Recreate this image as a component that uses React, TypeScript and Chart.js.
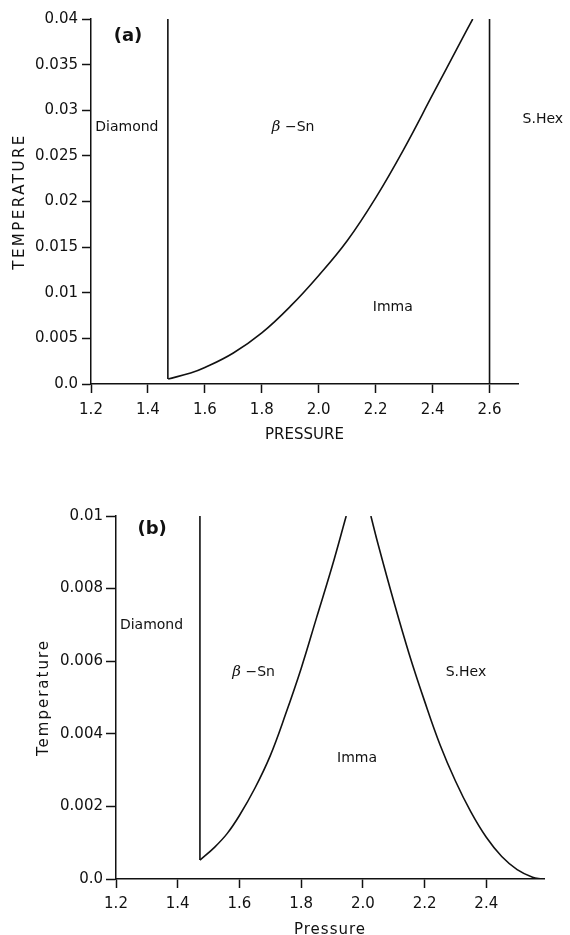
import React, { useEffect, useRef } from 'react';
import { Chart, registerables } from 'chart.js';
Chart.register(...registerables);

// ---------- Panel (a) data ----------
const A_X_TICKS = [1.2, 1.4, 1.6, 1.8, 2.0, 2.2, 2.4, 2.6];
const A_X_LABELS = ['1.2', '1.4', '1.6', '1.8', '2.0', '2.2', '2.4', '2.6'];
const A_Y_TICKS = [0, 0.005, 0.01, 0.015, 0.02, 0.025, 0.03, 0.035, 0.04];
const A_Y_LABELS = ['0.0', '0.005', '0.01', '0.015', '0.02', '0.025', '0.03', '0.035', '0.04'];
const A_X_RANGE = [1.2, 2.7];
const A_Y_RANGE = [0, 0.04];

// Diamond / beta-Sn boundary (vertical)
const A_DIA_X = [1.47, 1.47];
const A_DIA_Y = [0.04, 0.00055];
// beta-Sn / Imma boundary
const A_IMMA_X = [1.471, 1.55, 1.6, 1.7, 1.8, 1.9, 2.0, 2.1, 2.2, 2.3, 2.4, 2.5, 2.541];
const A_IMMA_Y = [0.00055, 0.0012, 0.0018, 0.0034, 0.0056, 0.0085, 0.0119, 0.0157, 0.0204, 0.0258, 0.0317, 0.0376, 0.04];
// Imma / S.Hex boundary (vertical)
const A_SHEX_X = [2.6, 2.6];
const A_SHEX_Y = [0, 0.04];

// ---------- Panel (b) data ----------
const B_X_TICKS = [1.2, 1.4, 1.6, 1.8, 2.0, 2.2, 2.4];
const B_X_LABELS = ['1.2', '1.4', '1.6', '1.8', '2.0', '2.2', '2.4'];
const B_Y_TICKS = [0, 0.002, 0.004, 0.006, 0.008, 0.01];
const B_Y_LABELS = ['0.0', '0.002', '0.004', '0.006', '0.008', '0.01'];
const B_X_RANGE = [1.2, 2.587];
const B_Y_RANGE = [0, 0.01];

const B_DIA_X = [1.472, 1.472];
const B_DIA_Y = [0.01, 0.00052];
const B_LEFT_X = [1.472, 1.52, 1.56, 1.6, 1.65, 1.7, 1.75, 1.8, 1.85, 1.9, 1.946];
const B_LEFT_Y = [0.00052, 0.00088, 0.00125, 0.00175, 0.0025, 0.0034, 0.00455, 0.0058, 0.0072, 0.0086, 0.01];
const B_RIGHT_X = [2.026, 2.05, 2.1, 2.15, 2.2, 2.25, 2.3, 2.35, 2.4, 2.45, 2.5, 2.55, 2.58];
const B_RIGHT_Y = [0.01, 0.0092, 0.00765, 0.0062, 0.0049, 0.0037, 0.0027, 0.00185, 0.00115, 0.00062, 0.00026, 0.00005, 0.0];

const INK = '#111';
const SANS = '"DejaVu Sans", sans-serif';

type Part = { t: string; font: string };
type Note = { parts: Part[]; x: number; y: number; align?: 'left' | 'center' };

const A_NOTES: Note[] = [
  { parts: [{ t: '(a)', font: `bold 18px ${SANS}` }], x: 1.33, y: 0.0381 },
  { parts: [{ t: 'Diamond', font: `14px ${SANS}` }], x: 1.326, y: 0.0281 },
  { parts: [{ t: 'β', font: 'italic 15px "DejaVu Serif", serif' }, { t: ' −Sn', font: `14px ${SANS}` }], x: 1.91, y: 0.0281 },
  { parts: [{ t: 'Imma', font: `14px ${SANS}` }], x: 2.26, y: 0.0084 },
  { parts: [{ t: 'S.Hex', font: `14px ${SANS}` }], x: 2.716, y: 0.029, align: 'left' },
];

const B_NOTES: Note[] = [
  { parts: [{ t: '(b)', font: `bold 18px ${SANS}` }], x: 1.317, y: 0.00963 },
  { parts: [{ t: 'Diamond', font: `14px ${SANS}` }], x: 1.315, y: 0.00699 },
  { parts: [{ t: 'β', font: 'italic 15px "DejaVu Serif", serif' }, { t: ' −Sn', font: `14px ${SANS}` }], x: 1.646, y: 0.00569 },
  { parts: [{ t: 'S.Hex', font: `14px ${SANS}` }], x: 2.334, y: 0.00569 },
  { parts: [{ t: 'Imma', font: `14px ${SANS}` }], x: 1.981, y: 0.00333 },
];

const pts = (xs: number[], ys: number[]) => xs.map((x, i) => ({ x, y: ys[i] }));

const lineDs = (xs: number[], ys: number[], smooth: boolean) => ({
  data: pts(xs, ys),
  borderColor: INK,
  borderWidth: 1.6,
  pointRadius: 0,
  fill: false,
  cubicInterpolationMode: 'default' as const,
  tension: smooth ? 0.4 : 0,
});

type Cfg = {
  datasets: any[];
  xRange: number[];
  yRange: number[];
  xTicks: number[];
  xLabels: string[];
  yTicks: number[];
  yLabels: string[];
  padTop: number;
  padRight: number;
  yWidth: number;
  xHeight: number;
  xLabelPad: number;
  yTickLen: number;
  yLabelPad: number;
  notes: Note[];
  xTitle: string;
  yTitle: string;
  xTitleDy: number;
  yTitleDx: number;
  xTitleSpacing: string;
  yTitleSpacing: string;
};

function makeConfig(c: Cfg): any {
  const textPlugin = {
    id: 'notes',
    afterDraw(chart: any) {
      const { ctx, chartArea, scales } = chart;
      ctx.save();
      ctx.fillStyle = INK;
      ctx.textBaseline = 'middle';
      for (const n of c.notes) {
        let total = 0;
        const widths = n.parts.map((p) => {
          ctx.font = p.font;
          const w = ctx.measureText(p.t).width;
          total += w;
          return w;
        });
        let px = scales.x.getPixelForValue(n.x);
        const py = scales.y.getPixelForValue(n.y);
        if (n.align !== 'left') px -= total / 2;
        ctx.textAlign = 'left';
        n.parts.forEach((p, i) => {
          ctx.font = p.font;
          ctx.fillText(p.t, px, py);
          px += widths[i];
        });
      }
      ctx.font = `15px ${SANS}`;
      ctx.textAlign = 'center';
      (ctx as any).letterSpacing = c.xTitleSpacing;
      ctx.fillText(c.xTitle, (chartArea.left + chartArea.right) / 2, chartArea.bottom + c.xTitleDy);
      (ctx as any).letterSpacing = c.yTitleSpacing;
      ctx.translate(chartArea.left - c.yTitleDx, (chartArea.top + chartArea.bottom) / 2);
      ctx.rotate(-Math.PI / 2);
      ctx.fillText(c.yTitle, 0, 0);
      ctx.restore();
    },
  };

  return {
    type: 'line',
    data: { datasets: c.datasets },
    options: {
      animation: false,
      responsive: false,
      devicePixelRatio: 1,
      layout: { padding: { top: c.padTop, right: c.padRight, left: 0, bottom: 0 } },
      plugins: { legend: { display: false }, tooltip: { enabled: false } },
      scales: {
        x: {
          type: 'linear',
          min: c.xRange[0],
          max: c.xRange[1],
          afterBuildTicks: (s: any) => {
            s.ticks = c.xTicks.map((v) => ({ value: v }));
          },
          afterFit: (s: any) => {
            s.height = c.xHeight;
          },
          border: { display: true, color: INK, width: 1.5 },
          grid: {
            display: true,
            drawOnChartArea: false,
            drawTicks: true,
            tickLength: 9,
            tickColor: INK,
            tickWidth: 1.5,
          },
          ticks: {
            color: INK,
            font: { family: SANS, size: 15 },
            padding: c.xLabelPad,
            maxRotation: 0,
            autoSkip: false,
            callback: (_v: any, i: number) => c.xLabels[i],
          },
        },
        y: {
          type: 'linear',
          min: c.yRange[0],
          max: c.yRange[1],
          afterBuildTicks: (s: any) => {
            s.ticks = c.yTicks.map((v) => ({ value: v }));
          },
          afterFit: (s: any) => {
            s.width = c.yWidth;
          },
          border: { display: true, color: INK, width: 1.5 },
          grid: {
            display: true,
            drawOnChartArea: false,
            drawTicks: true,
            tickLength: c.yTickLen,
            tickColor: INK,
            tickWidth: 1.5,
          },
          ticks: {
            color: INK,
            font: { family: SANS, size: 15 },
            padding: c.yLabelPad,
            autoSkip: false,
            callback: (_v: any, i: number) => c.yLabels[i],
          },
        },
      },
    },
    plugins: [textPlugin],
  };
}

function Panel({ cfg, top, height }: { cfg: Cfg; top: number; height: number }) {
  const ref = useRef<HTMLCanvasElement | null>(null);
  useEffect(() => {
    if (!ref.current) return;
    const chart = new Chart(ref.current, makeConfig(cfg));
    return () => chart.destroy();
  }, []);
  return (
    <canvas
      ref={ref}
      width={570}
      height={height}
      style={{ position: 'absolute', left: 0, top, width: 570, height }}
    />
  );
}

const A_CFG: Cfg = {
  datasets: [
    lineDs(A_DIA_X, A_DIA_Y, false),
    lineDs(A_IMMA_X, A_IMMA_Y, true),
    lineDs(A_SHEX_X, A_SHEX_Y, false),
  ],
  xRange: A_X_RANGE,
  yRange: A_Y_RANGE,
  xTicks: A_X_TICKS,
  xLabels: A_X_LABELS,
  yTicks: A_Y_TICKS,
  yLabels: A_Y_LABELS,
  padTop: 19,
  padRight: 52,
  yWidth: 91,
  xHeight: 76,
  xLabelPad: 8,
  yTickLen: 9,
  yLabelPad: 4,
  notes: A_NOTES,
  xTitle: 'PRESSURE',
  yTitle: 'TEMPERATURE',
  xTitleDy: 51,
  yTitleDx: 71,
  xTitleSpacing: '0px',
  yTitleSpacing: '2.5px',
};

const B_CFG: Cfg = {
  datasets: [
    lineDs(B_DIA_X, B_DIA_Y, false),
    lineDs(B_LEFT_X, B_LEFT_Y, true),
    lineDs(B_RIGHT_X, B_RIGHT_Y, true),
  ],
  xRange: B_X_RANGE,
  yRange: B_Y_RANGE,
  xTicks: B_X_TICKS,
  xLabels: B_X_LABELS,
  yTicks: B_Y_TICKS,
  yLabels: B_Y_LABELS,
  padTop: 56,
  padRight: 26,
  yWidth: 116,
  xHeight: 56,
  xLabelPad: 7,
  yTickLen: 10,
  yLabelPad: 3,
  notes: B_NOTES,
  xTitle: 'Pressure',
  yTitle: 'Temperature',
  xTitleDy: 51,
  yTitleDx: 72,
  xTitleSpacing: '1px',
  yTitleSpacing: '2px',
};

export default function App() {
  return (
    <div style={{ position: 'absolute', left: 0, top: 0, width: 570, height: 935, background: '#fff', overflow: 'hidden' }}>
      <Panel cfg={A_CFG} top={0} height={460} />
      <Panel cfg={B_CFG} top={460} height={475} />
    </div>
  );
}
